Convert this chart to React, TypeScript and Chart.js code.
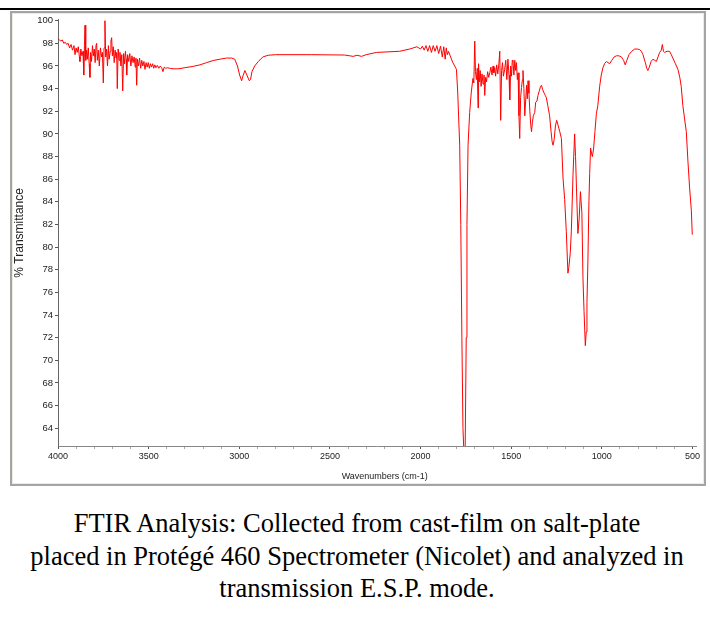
import React, { useEffect, useRef } from 'react';
import { Chart, registerables } from 'chart.js';

Chart.register(...registerables);

// Wavenumbers (cm-1), high to low
const wavenumbers = [
  4000, 3992, 3984, 3976, 3968, 3960, 3952, 3944, 3936, 3928, 3920, 3912, 3906, 3900, 3894, 3888,
  3882, 3879, 3874, 3868, 3862, 3858, 3854, 3851, 3847, 3843, 3838, 3833, 3828, 3824, 3820, 3815,
  3810, 3805, 3800, 3795, 3790, 3787, 3783, 3778, 3772, 3766, 3760, 3755, 3750, 3746, 3741, 3737,
  3732, 3727, 3722, 3718, 3712, 3708, 3704, 3700, 3695, 3690, 3685, 3680, 3676, 3673, 3668, 3663,
  3658, 3653, 3648, 3643, 3638, 3633, 3628, 3624, 3621, 3616, 3610, 3604, 3598, 3592, 3586, 3580,
  3574, 3570, 3566, 3562, 3556, 3550, 3544, 3538, 3532, 3526, 3520, 3514, 3508, 3502, 3496, 3490,
  3484, 3478, 3472, 3466, 3460, 3452, 3444, 3436, 3428, 3421, 3414, 3406, 3396, 3380, 3360, 3340,
  3327, 3300, 3260, 3217, 3180, 3140, 3107, 3070, 3042, 3025, 3010, 2998, 2987, 2978, 2969, 2958,
  2945, 2938, 2930, 2915, 2895, 2870, 2840, 2800, 2600, 2420, 2390, 2372, 2350, 2326, 2300, 2243,
  2115, 2060, 2040, 2020, 2000, 1990, 1980, 1970, 1960, 1950, 1940, 1930, 1920, 1910, 1900, 1890,
  1880, 1872, 1864, 1858, 1852, 1846, 1834, 1822, 1808, 1802, 1795, 1790, 1784, 1778, 1772, 1766,
  1760, 1754, 1748, 1744, 1738, 1729, 1720, 1711, 1706, 1701, 1697, 1692, 1687, 1683, 1680, 1676,
  1671, 1666, 1661, 1655, 1650, 1646, 1641, 1636, 1630, 1624, 1618, 1612, 1606, 1600, 1596, 1591,
  1586, 1580, 1574, 1568, 1563, 1558, 1553, 1548, 1543, 1536, 1530, 1524, 1518, 1512, 1508, 1503,
  1498, 1494, 1490, 1485, 1480, 1475, 1471, 1466, 1462, 1457, 1453, 1448, 1443, 1438, 1435, 1430,
  1425, 1420, 1415, 1411, 1407, 1402, 1397, 1392, 1388, 1383, 1378, 1370, 1365, 1358, 1352, 1345,
  1338, 1333, 1326, 1318, 1312, 1306, 1298, 1288, 1280, 1274, 1269, 1263, 1256, 1249, 1242, 1232,
  1223, 1214, 1205, 1196, 1187, 1182, 1174, 1168, 1159, 1150, 1145, 1140, 1132, 1125, 1118, 1110,
  1104, 1098, 1091, 1086, 1082, 1077, 1071, 1067, 1062, 1057, 1052, 1045, 1038, 1030, 1022, 1012,
  1003, 994, 985, 975, 966, 957, 945, 932, 920, 906, 892, 880, 871, 862, 850, 835,
  819, 805, 791, 782, 773, 760, 752, 746, 738, 728, 718, 708, 699, 690, 681, 672,
  666, 660, 654, 640, 626, 617, 608, 594, 580, 570, 562, 553, 544, 534, 525, 516,
  506, 501,
];

// % Transmittance at each wavenumber above
const transmittance = [
  98.4, 98.3, 98.2, 98.3, 98.0, 98.1, 97.9, 98.0, 97.6, 97.9, 97.4, 97.8, 97.0, 97.6, 97.2, 97.7,
  96.8, 96.4, 97.5, 96.9, 97.3, 95.2, 97.8, 99.6, 96.5, 97.4, 96.6, 97.6, 96.2, 95.0, 97.2, 96.4,
  97.8, 96.9, 97.5, 96.3, 97.9, 98.0, 96.5, 97.4, 96.0, 97.6, 96.8, 97.2, 94.5, 97.6, 100.0, 96.8,
  97.5, 96.0, 97.8, 96.6, 97.3, 98.2, 98.5, 96.9, 97.7, 96.3, 97.4, 96.7, 97.2, 94.0, 97.5, 96.5,
  97.2, 96.0, 97.0, 93.8, 97.1, 96.2, 97.3, 96.6, 95.2, 97.0, 96.4, 97.1, 96.0, 96.9, 96.3, 96.8,
  95.9, 96.7, 94.3, 96.6, 96.0, 96.7, 95.8, 96.5, 96.0, 96.4, 95.7, 96.3, 95.9, 96.3, 95.8, 96.2,
  95.9, 96.2, 95.8, 96.1, 95.85, 96.05, 95.8, 96.0, 95.85, 95.5, 95.9, 95.8, 95.85, 95.78, 95.75, 95.75,
  95.77, 95.85, 95.95, 96.1, 96.3, 96.5, 96.6, 96.7, 96.7, 96.6, 96.0, 95.2, 94.7, 95.2, 95.6, 95.2,
  94.7, 94.8, 95.5, 96.0, 96.4, 96.8, 96.95, 97.0, 97.0, 96.97, 96.9, 96.85, 96.95, 96.85, 97.0, 97.2,
  97.3, 97.5, 97.6, 97.7, 97.5, 97.75, 97.4, 97.8, 97.3, 97.8, 97.2, 97.8, 97.3, 97.8, 97.1, 97.75,
  96.8, 97.7, 96.6, 97.6, 97.0, 97.3, 96.8, 96.3, 95.9, 95.7, 93.7, 91.5, 89.0, 82.0, 72.0, 64.0,
  61.5, 62.0, 72.0, 82.0, 89.0, 91.9, 93.7, 94.9, 94.5, 98.2, 95.5, 94.8, 95.8, 92.3, 96.2, 94.6,
  95.6, 94.2, 95.3, 94.4, 95.2, 93.4, 95.0, 94.6, 95.5, 95.0, 95.4, 95.9, 95.2, 96.0, 95.4, 95.85,
  95.1, 96.1, 95.3, 96.2, 97.3, 91.2, 95.6, 96.3, 95.1, 95.7, 96.5, 94.8, 96.6, 95.2, 93.0, 96.0,
  95.1, 96.5, 96.4, 95.2, 96.5, 95.6, 96.3, 94.8, 95.4, 91.6, 89.6, 93.2, 94.1, 94.8, 95.6, 94.0,
  91.6, 93.0, 94.3, 93.1, 94.7, 93.6, 92.0, 90.8, 90.2, 91.0, 91.6, 91.9, 92.8, 92.9, 93.4, 93.8,
  94.2, 94.3, 93.9, 93.6, 93.4, 93.2, 92.5, 91.6, 90.2, 89.3, 89.0, 89.5, 90.7, 91.2, 90.8, 90.2,
  89.6, 86.1, 84.2, 81.4, 77.7, 78.2, 79.5, 81.5, 86.4, 90.0, 88.0, 85.3, 81.2, 82.5, 84.9, 83.0,
  77.2, 74.3, 71.3, 72.5, 75.1, 78.6, 84.1, 86.5, 88.75, 88.3, 88.0, 88.75, 90.2, 91.8, 92.5, 94.2,
  95.2, 95.85, 96.2, 96.4, 96.3, 96.2, 96.5, 96.8, 96.9, 96.9, 96.8, 96.5, 96.1, 96.5, 97.0, 97.3,
  97.5, 97.5, 97.45, 97.3, 97.0, 96.3, 95.8, 95.6, 95.9, 96.4, 96.6, 96.5, 96.4, 96.8, 97.2, 97.4,
  97.9, 97.3, 97.2, 97.3, 97.3, 97.0, 96.7, 96.2, 95.7, 95.0, 94.2, 92.5, 91.4, 90.2, 87.6, 85.3,
  83.2, 81.1,
];

const yTickValues = [64, 66, 68, 70, 72, 74, 76, 78, 80, 82, 84, 86, 88, 90, 92, 94, 96, 98, 100];
const xLabelValues = [4000, 3500, 3000, 2500, 2000, 1500, 1000, 500];

const xTitle = '      Wavenumbers (cm-1)';
const yTitle = '% Transmittance';
const captionLines = [
  'FTIR Analysis: Collected from cast-film on salt-plate',
  'placed in Protégé 460 Spectrometer (Nicolet) and analyzed in',
  'transmission E.S.P. mode.',
];

const sansFont = "'Liberation Sans', Arial, sans-serif";

export default function App() {
  const ref = useRef<HTMLCanvasElement>(null);

  useEffect(() => {
    if (!ref.current) return;
    const chart = new Chart(ref.current, {
      type: 'line',
      data: {
        datasets: [
          {
            data: wavenumbers.map((w, i) => ({ x: w, y: transmittance[i] })),
            borderColor: '#ff0000',
            borderWidth: 1,
            pointRadius: 0,
            tension: 0,
            fill: false,
          },
        ],
      },
      options: {
        animation: false,
        responsive: false,
        maintainAspectRatio: false,
        layout: { padding: { top: 1, right: 5, left: 0, bottom: 0 } },
        plugins: { legend: { display: false }, tooltip: { enabled: false } },
        scales: {
          x: {
            type: 'linear',
            reverse: true,
            min: 478,
            max: 4000,
            afterFit: (s: any) => {
              s.height = 38;
            },
            ticks: {
              stepSize: 100,
              includeBounds: false,
              autoSkip: false,
              maxRotation: 0,
              padding: 2,
              color: '#222',
              font: { family: sansFont, size: 9 },
              callback: (v: any) => (xLabelValues.includes(Number(v)) ? String(v) : ''),
            },
            grid: {
              drawOnChartArea: false,
              drawTicks: true,
              tickLength: 3,
              tickColor: (ctx: any) =>
                ctx.tick && xLabelValues.includes(ctx.tick.value) ? '#555' : '#aaa',
            },
            border: { color: '#888', width: 1 },
            title: {
              display: true,
              text: xTitle,
              color: '#222',
              font: { family: sansFont, size: 9 },
              padding: { top: 0, bottom: 2 },
            },
          },
          y: {
            type: 'linear',
            min: 62.43,
            max: 100.09,
            afterFit: (s: any) => {
              s.width = 46;
            },
            afterBuildTicks: (s: any) => {
              s.ticks = yTickValues.map((v) => ({ value: v }));
            },
            ticks: {
              autoSkip: false,
              padding: 2,
              color: '#222',
              font: { family: sansFont, size: 9.5 },
            },
            grid: {
              drawOnChartArea: false,
              drawTicks: true,
              tickLength: 3,
              tickColor: '#555',
            },
            border: { color: '#666', width: 1, dash: [1, 2] },
            title: {
              display: true,
              text: yTitle,
              color: '#222',
              font: { family: sansFont, size: 12 },
              padding: { top: 0, bottom: 0 },
            },
          },
        },
      },
    });
    return () => chart.destroy();
  }, []);

  return (
    <div style={{ position: 'absolute', left: 0, top: 0, width: 710, height: 600 }}>
      <div
        style={{
          position: 'absolute',
          left: 0,
          top: 8,
          width: 710,
          height: 2,
          background: '#000',
        }}
      />
      <div
        style={{
          position: 'absolute',
          left: 10,
          top: 11,
          width: 696,
          height: 475,
          boxSizing: 'border-box',
          border: '2px solid #a4a4a4',
          boxShadow: 'inset 0 0 0 1px #ecebe0',
          background: '#fff',
        }}
      />
      <canvas
        ref={ref}
        width={690}
        height={472}
        style={{ position: 'absolute', left: 12, top: 12, width: 690, height: 472 }}
      />
      <div
        style={{
          position: 'absolute',
          left: 4,
          top: 507,
          width: 706,
          textAlign: 'center',
          fontFamily: "'Liberation Serif', 'Times New Roman', serif",
          fontSize: 26.5,
          lineHeight: '32.5px',
          color: '#000',
          whiteSpace: 'nowrap',
        }}
      >
        {captionLines.map((l, i) => (
          <div key={i}>{l}</div>
        ))}
      </div>
    </div>
  );
}
